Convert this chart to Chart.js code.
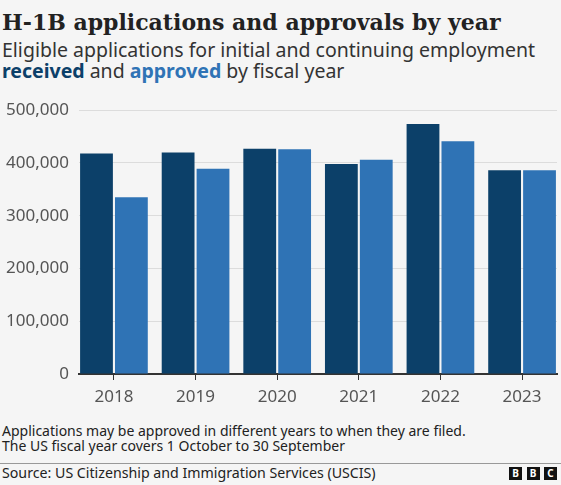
<!DOCTYPE html>
<html>
<head>
<meta charset="utf-8">
<script src="https://cdn.jsdelivr.net/npm/chart.js@4/dist/chart.umd.min.js"></script>
<style>
  html, body { margin: 0; padding: 0; background: #f5f5f5; }
  #wrap { position: relative; width: 561px; height: 485px; background: #f5f5f5; overflow: hidden; }
  .t { position: absolute; left: 2px; white-space: nowrap; }
  #title { top: 10px; font: bold 22px/24px "DejaVu Serif", serif; color: #222; }
  #sub { top: 39px; font: 19.5px/21px "Noto Sans", sans-serif; color: #333; }
  #sub b.r { color: #0c4069; }
  #sub b.a { color: #2f73b5; }
  #note { top: 423px; font: 14px/15px "Noto Sans", sans-serif; color: #222; }
  #rule { position: absolute; left: 0; top: 462.5px; width: 561px; height: 1px; background: #999; }
  #source { top: 464.8px; font: 14.2px/15px "Noto Sans", sans-serif; color: #222; }
  .logo { position: absolute; top: 467px; width: 13px; height: 13px; background: #111; color: #fff;
          font: bold 10px/13px "Noto Sans", sans-serif; text-align: center; }
  #chart { position: absolute; left: 0; top: 90px; }
</style>
</head>
<body>
<div id="wrap">
  <div class="t" id="title">H-1B applications and approvals by year</div>
  <div class="t" id="sub">Eligible applications for initial and continuing employment<br><b class="r">received</b> and <b class="a">approved</b> by fiscal year</div>
  <canvas id="chart" width="561" height="320"></canvas>
  <div class="t" id="note">Applications may be approved in different years to when they are filed.<br>The US fiscal year covers 1 October to 30 September</div>
  <div id="rule"></div>
  <div class="t" id="source">Source: US Citizenship and Immigration Services (USCIS)</div>
  <div class="logo" style="left:509px">B</div>
  <div class="logo" style="left:526.5px">B</div>
  <div class="logo" style="left:544px">C</div>
</div>
<script>
const years = [2018, 2019, 2020, 2021, 2022, 2023];
const received = [418000, 420000, 427000, 398000, 474000, 386000];
const approved = [335000, 389000, 426000, 406000, 441000, 386000];
const yTicks = [0, 100000, 200000, 300000, 400000, 500000];

function toPoints(values) {
    return values.map((v, i) => ({ x: years[i], y: v }));
}

function renderChart() {
    new Chart(document.getElementById('chart'), {
        type: 'bar',
        data: {
            datasets: [{
                label: 'Received',
                data: toPoints(received),
                backgroundColor: '#0c4069',
                categoryPercentage: 0.855,
                barPercentage: 0.94
            }, {
                label: 'Approved',
                data: toPoints(approved),
                backgroundColor: '#2f73b5',
                categoryPercentage: 0.855,
                barPercentage: 0.94
            }]
        },
        options: {
            responsive: false,
            animation: false,
            layout: { padding: { top: 17, right: 4, left: 0, bottom: 0 } },
            plugins: { legend: { display: false }, tooltip: { enabled: false } },
            scales: {
                x: {
                    type: 'linear',
                    offset: false,
                    min: years[0] - 0.428,
                    max: years[years.length - 1] + 0.428,
                    afterFit: s => { s.height = 36; },
                    afterBuildTicks: s => { s.ticks = years.map(y => ({ value: y })); },
                    border: { display: true, color: '#333', width: 2 },
                    grid: { offset: false, drawOnChartArea: false, drawTicks: true, tickLength: 6, color: '#333', lineWidth: 1 },
                    ticks: {
                        includeBounds: false,
                        stepSize: 1,
                        padding: 7,
                        color: '#555',
                        font: { family: 'Noto Sans', size: 17 },
                        callback: v => String(v)
                    }
                },
                y: {
                    min: 0,
                    max: 500000,
                    afterFit: s => { s.width = 79; },
                    afterBuildTicks: s => { s.ticks = yTicks.map(v => ({ value: v })); },
                    border: { display: false },
                    grid: {
                        drawTicks: false,
                        color: ctx => ctx.tick && ctx.tick.value === 0 ? 'rgba(0,0,0,0)' : '#dcdcdc',
                        lineWidth: 1
                    },
                    ticks: {
                        padding: 10,
                        color: '#555',
                        font: { family: 'Noto Sans', size: 17 },
                        callback: v => v.toLocaleString('en-US')
                    }
                }
            }
        }
    });
}

window.onload = renderChart;
</script>
</body>
</html>
